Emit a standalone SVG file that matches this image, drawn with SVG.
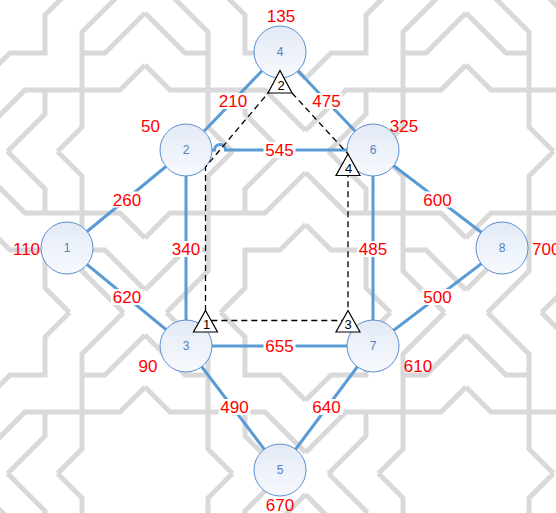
<svg xmlns="http://www.w3.org/2000/svg" xmlns:xlink="http://www.w3.org/1999/xlink" width="556" height="513" viewBox="0 0 556 513">
<defs>
<style>
.edge{fill:none;stroke:#5b9bd5;stroke-width:3}
.node circle{fill:url(#ng);stroke:#5b8fd0;stroke-width:1}
.node text{font-family:"Liberation Sans",Arial,sans-serif;font-size:12px;fill:#5282c2;text-anchor:middle}
.lbl rect{fill:#ffffff}
.lbl text,.val text{font-family:"Liberation Sans",Arial,sans-serif;font-size:17px;fill:#ff0000;text-anchor:middle}
.dash{fill:none;stroke:#000;stroke-width:1.3;stroke-dasharray:6 4}
.tri polygon{fill:#fff;stroke:#000;stroke-width:1.2}
.tri text{font-family:"Liberation Sans",Arial,sans-serif;font-size:13px;fill:#000;text-anchor:middle}
</style>
<linearGradient id="ng" x1="0" y1="0" x2="0" y2="1">
<stop offset="0" stop-color="#e3eaf6"/>
<stop offset="1" stop-color="#f7f9fd"/>
</linearGradient>
<g id="q" fill="none" stroke="#d9d9d9" stroke-width="5">
<path d="M-15.5,78.5 L10,53 L45,53 L45,15 L69.5,-9.5"/>
<path d="M123.5,-9.5 L82,32 L82,127 L57.5,151.5"/>
<path d="M82,53 L105,53 L145,13"/>
<path d="M-15.5,130.5 L25,90 L120,90 L145,65"/>
<path d="M45,90 L45,114 L7.5,151.5"/>
</g>
<g id="tile">
<use xlink:href="#q"/>
<use xlink:href="#q" transform="translate(290,0) scale(-1,1)"/>
<use xlink:href="#q" transform="translate(0,303) scale(1,-1)"/>
<use xlink:href="#q" transform="translate(290,303) scale(-1,-1)"/>
</g>
</defs>
<rect x="0" y="0" width="556" height="513" fill="#ffffff"/>
<g id="background">
<use xlink:href="#tile"/>
<use xlink:href="#tile" transform="translate(321,0)"/>
<use xlink:href="#tile" transform="translate(0,322)"/>
<use xlink:href="#tile" transform="translate(321,322)"/>
</g>
<g id="connectors">
<path class="edge" d="M280,52 L186,150"/>
<path class="edge" d="M280,52 L373,150"/>
<path class="edge" d="M186,150 L214.5,150 A5.5,5.5 0 0 1 225.5,150 L373,150"/>
<path class="edge" d="M186,150 L67,248"/>
<path class="edge" d="M186,150 L186,346"/>
<path class="edge" d="M67,248 L186,346"/>
<path class="edge" d="M373,150 L502,248"/>
<path class="edge" d="M373,150 L373,346"/>
<path class="edge" d="M502,248 L373,346"/>
<path class="edge" d="M186,346 L373,346"/>
<path class="edge" d="M186,346 L280,470"/>
<path class="edge" d="M373,346 L280,470"/>
<g class="lbl">
<rect x="217" y="93" width="32" height="16"/><text x="233" y="107">210</text>
<rect x="310.5" y="93" width="32" height="16"/><text x="326.5" y="107">475</text>
<rect x="263.5" y="142" width="32" height="16"/><text x="279.5" y="156">545</text>
<rect x="111" y="191.5" width="32" height="16"/><text x="127" y="205.5">260</text>
<rect x="170" y="241" width="32" height="16"/><text x="186" y="255">340</text>
<rect x="111" y="289" width="32" height="16"/><text x="127" y="303">620</text>
<rect x="421.5" y="191.5" width="32" height="16"/><text x="437.5" y="205.5">600</text>
<rect x="357" y="241" width="32" height="16"/><text x="373" y="255">485</text>
<rect x="421.5" y="289" width="32" height="16"/><text x="437.5" y="303">500</text>
<rect x="263.5" y="338" width="32" height="16"/><text x="279.5" y="352">655</text>
<rect x="218.5" y="399" width="32" height="16"/><text x="234.5" y="413">490</text>
<rect x="310.5" y="399" width="32" height="16"/><text x="326.5" y="413">640</text>
</g>
</g>
<g id="node1" class="node"><circle cx="67" cy="248" r="26"/><text x="67" y="252.3">1</text></g>
<g id="node2" class="node"><circle cx="186" cy="150" r="26"/><text x="186" y="154.3">2</text></g>
<g id="node3" class="node"><circle cx="186" cy="346" r="26"/><text x="186" y="350.3">3</text></g>
<g id="node4" class="node"><circle cx="280" cy="52" r="26"/><text x="280" y="56.3">4</text></g>
<g id="node5" class="node"><circle cx="280" cy="470" r="26"/><text x="280" y="474.3">5</text></g>
<g id="node6" class="node"><circle cx="373" cy="150" r="26"/><text x="373" y="154.3">6</text></g>
<g id="node7" class="node"><circle cx="373" cy="346" r="26"/><text x="373" y="350.3">7</text></g>
<g id="node8" class="node"><circle cx="502" cy="248" r="26"/><text x="502" y="252.3">8</text></g>
<g id="route">
<path class="dash" d="M205.5,321 L205.5,167 L280,79 M292,93 L348,154 L348,320.5 L205.5,320.5"/>
</g>
<g id="tri1" class="tri"><polygon points="205.5,310.5 217.5,332 193.5,332"/><text x="206.5" y="329">1</text></g>
<g id="tri2" class="tri"><polygon points="280,70.5 292,93 268,93"/><text x="281" y="90">2</text></g>
<g id="tri3" class="tri"><polygon points="348,310.5 360,332 336,332"/><text x="348" y="329">3</text></g>
<g id="tri4" class="tri"><polygon points="348,154 360,175.5 336,175.5"/><text x="348.5" y="172.5">4</text></g>
<g id="values" class="val">
<text x="281" y="21.5">135</text>
<text x="150.5" y="132">50</text>
<text x="404" y="132">325</text>
<text x="26.5" y="255">110</text>
<text x="148" y="372">90</text>
<text x="418" y="372">610</text>
<text x="532" y="255" style="text-anchor:start">700</text>
<text x="280" y="511">670</text>
</g>
</svg>
